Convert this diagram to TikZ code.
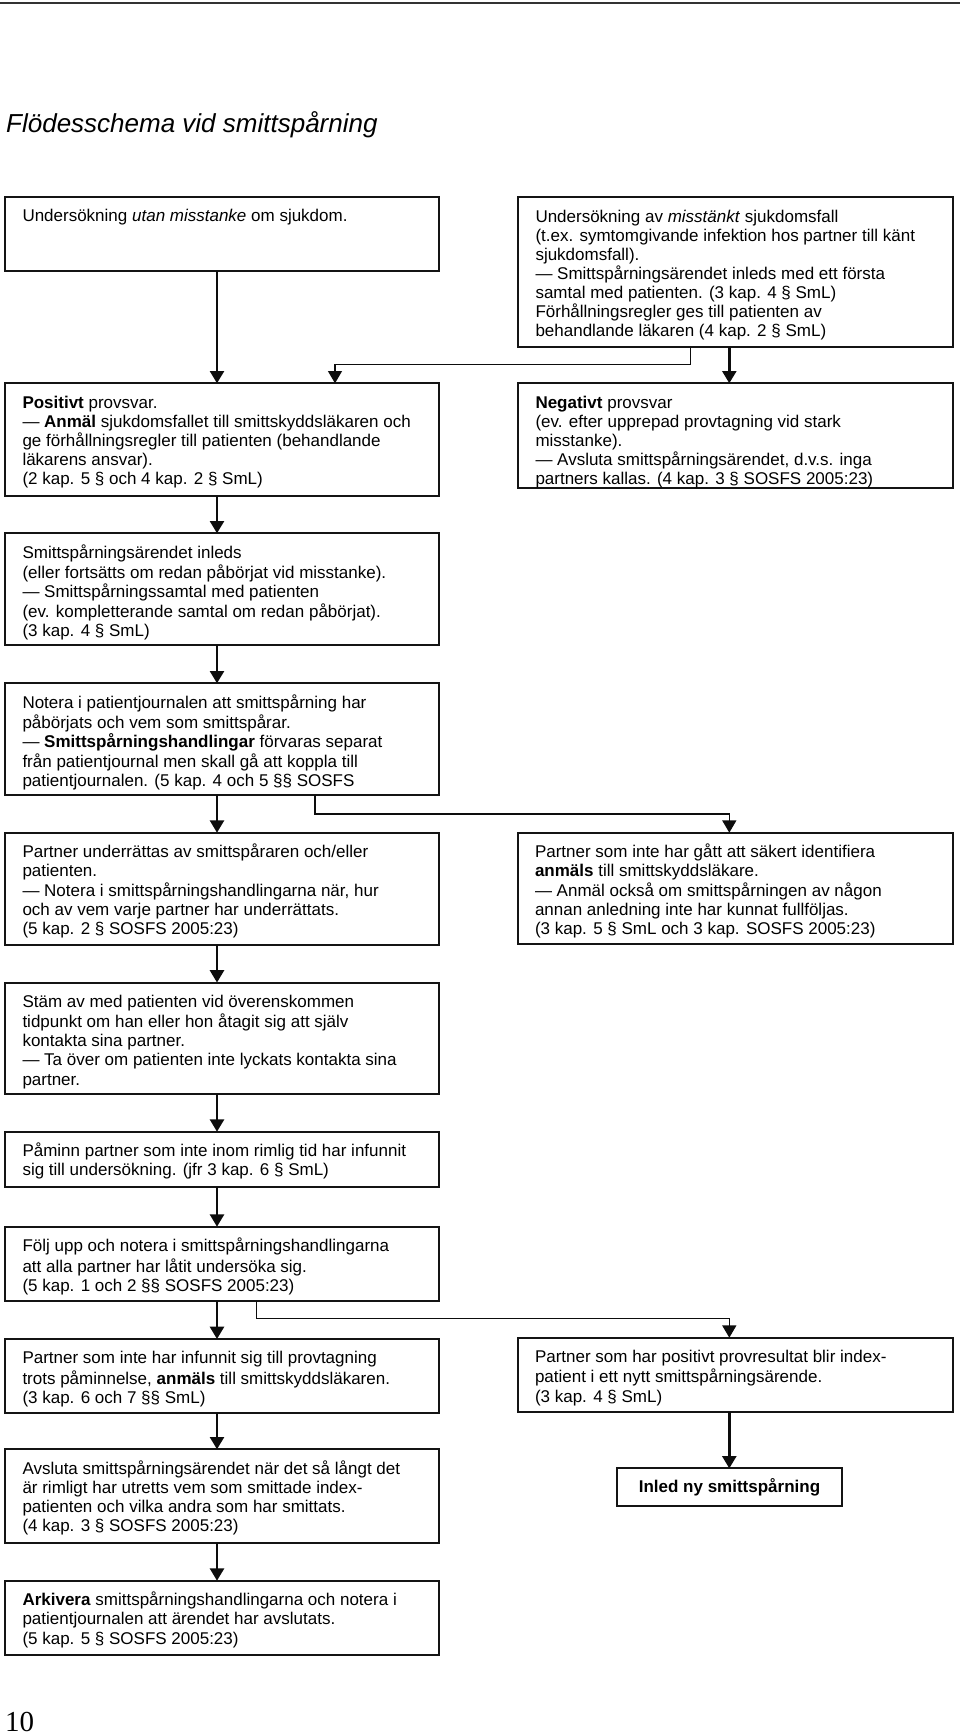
\documentclass[tikz,border=0pt]{standalone}
\usepackage{fontspec}
\setmainfont{Liberation Sans}
\newfontfamily\serifnum{Liberation Serif}
\usetikzlibrary{arrows.meta,calc}
\newcommand{\flowbox}[6]{%
  \node[box, minimum width=#4pt, minimum height=#5pt] (#1) at (#2,#3) {};
  \node[txt] (#1t) at ($(#1.north west)+(17.5,11.3)$) {\strut #6};}
\begin{document}
\begin{tikzpicture}[x=1pt,y=-1pt,
  box/.style={draw=black!92, line width=2pt, anchor=north west, inner sep=0pt, outer sep=0pt},
  txt/.style={anchor=north west, inner sep=0pt, outer sep=0pt, align=left, font=\fontsize{17}{19.15}\selectfont},
  mainarrow/.style={draw=black!95, line width=2.5pt, -{Triangle[length=12.3pt,width=14pt]}},
  thinarrow/.style={draw=black!95, line width=1.4pt, -{Triangle[length=12.3pt,width=14pt]}}]
\useasboundingbox (0,0) rectangle (960,1735);
\draw[line width=2pt, black!80] (0,2.7) -- (960,2.7);
\node[anchor=base west, inner sep=0pt, font=\fontsize{26}{30}\selectfont\itshape] (title) at (6,132.3) {Flödesschema vid smittspårning};

\flowbox{A}{5}{196.7}{434}{74}{Undersökning \textit{utan misstanke} om sjukdom.}
\flowbox{B}{518}{197.3}{435}{149.4}{Undersökning av \textit{misstänkt} sjukdomsfall\\(t.ex. symtomgivande infektion hos partner till känt\\sjukdomsfall).\\— Smittspårningsärendet inleds med ett första\\samtal med patienten. (3 kap. 4 § SmL)\\Förhållningsregler ges till patienten av\\behandlande läkaren (4 kap. 2 § SmL)}
\flowbox{C}{5}{383.3}{434}{112.7}{\textbf{Positivt} provsvar.\\— \textbf{Anmäl} sjukdomsfallet till smittskyddsläkaren och\\ge förhållningsregler till patienten (behandlande\\läkarens ansvar).\\(2 kap. 5 § och 4 kap. 2 § SmL)}
\flowbox{D}{518}{383.3}{435}{104.7}{\textbf{Negativt} provsvar\\(ev. efter upprepad provtagning vid stark\\misstanke).\\— Avsluta smittspårningsärendet, d.v.s. inga\\partners kallas. (4 kap. 3 § SOSFS 2005:23)}
\flowbox{E}{5}{533.3}{434}{112}{Smittspårningsärendet inleds\\(eller fortsätts om redan påbörjat vid misstanke).\\— Smittspårningssamtal med patienten\\(ev. kompletterande samtal om redan påbörjat).\\(3 kap. 4 § SmL)}
\flowbox{F}{5}{683.3}{434}{111.4}{Notera i patientjournalen att smittspårning har\\påbörjats och vem som smittspårar.\\— \textbf{Smittspårningshandlingar} förvaras separat\\från patientjournal men skall gå att koppla till\\patientjournalen. (5 kap. 4 och 5 §§ SOSFS}
\flowbox{G}{5}{832.7}{434}{112}{Partner underrättas av smittspåraren och/eller\\patienten.\\— Notera i smittspårningshandlingarna när, hur\\och av vem varje partner har underrättats.\\(5 kap. 2 § SOSFS 2005:23)}
\flowbox{H}{517.5}{832.7}{435.5}{111.6}{Partner som inte har gått att säkert identifiera\\\textbf{anmäls} till smittskyddsläkare.\\— Anmäl också om smittspårningen av någon\\annan anledning inte har kunnat fullföljas.\\(3 kap. 5 § SmL och 3 kap. SOSFS 2005:23)}
\flowbox{I}{5}{982.5}{434}{111.5}{Stäm av med patienten vid överenskommen\\tidpunkt om han eller hon åtagit sig att själv\\kontakta sina partner.\\— Ta över om patienten inte lyckats kontakta sina\\partner.}
\flowbox{J}{5}{1131.7}{434}{55.6}{Påminn partner som inte inom rimlig tid har infunnit\\sig till undersökning. (jfr 3 kap. 6 § SmL)}
\flowbox{K}{5}{1226.7}{434}{73.8}{Följ upp och notera i smittspårningshandlingarna\\att alla partner har låtit undersöka sig.\\(5 kap. 1 och 2 §§ SOSFS 2005:23)}
\flowbox{L}{5}{1339}{434}{73.7}{Partner som inte har infunnit sig till provtagning\\trots påminnelse, \textbf{anmäls} till smittskyddsläkaren.\\(3 kap. 6 och 7 §§ SmL)}
\flowbox{M}{517.5}{1337.7}{435.2}{74.6}{Partner som har positivt provresultat blir index-\\patient i ett nytt smittspårningsärende.\\(3 kap. 4 § SmL)}
\flowbox{N}{5}{1449.3}{434}{94}{Avsluta smittspårningsärendet när det så långt det\\är rimligt har utretts vem som smittade index-\\patienten och vilka andra som har smittats.\\(4 kap. 3 § SOSFS 2005:23)}
\node[box, minimum width=225.6pt, minimum height=37.7pt, font=\fontsize{17}{19.15}\selectfont\bfseries, anchor=center] (O) at (729.5,1487.2) {Inled ny smittspårning};
\flowbox{P}{5}{1580.7}{434}{74.3}{\textbf{Arkivera} smittspårningshandlingarna och notera i\\patientjournalen att ärendet har avslutats.\\(5 kap. 5 § SOSFS 2005:23)}

\node[anchor=base west, inner sep=0pt, font=\serifnum\fontsize{29}{32}\selectfont] (pagenum) at (5,1731) {10};

\coordinate (cl) at (217,0);
\coordinate (cr) at (729.3,0);
\coordinate (b1) at (690.7,364.5);
\coordinate (b2) at (335,364.5);
\coordinate (f1) at (315,814);
\coordinate (f2) at (729.3,814);
\coordinate (k1) at (256.7,1318.3);
\coordinate (k2) at (729.3,1318.3);

\draw[mainarrow] (A.south -| cl) -- (C.north -| cl);
\draw[thinarrow] (B.south -| b1) -- (b1) -- (b2) -- (C.north -| b2);
\draw[mainarrow] (B.south -| cr) -- (D.north -| cr);
\draw[mainarrow] (C.south -| cl) -- (E.north -| cl);
\draw[mainarrow] (E.south -| cl) -- (F.north -| cl);
\draw[mainarrow] (F.south -| cl) -- (G.north -| cl);
\draw[thinarrow] (F.south -| f1) -- (f1) -- (f2) -- (H.north -| f2);
\draw[mainarrow] (G.south -| cl) -- (I.north -| cl);
\draw[mainarrow] (I.south -| cl) -- (J.north -| cl);
\draw[mainarrow] (J.south -| cl) -- (K.north -| cl);
\draw[mainarrow] (K.south -| cl) -- (L.north -| cl);
\draw[thinarrow] (K.south -| k1) -- (k1) -- (k2) -- (M.north -| k2);
\draw[mainarrow] (L.south -| cl) -- (N.north -| cl);
\draw[mainarrow] (N.south -| cl) -- (P.north -| cl);
\draw[mainarrow] (M.south -| cr) -- (O.north -| cr);
\end{tikzpicture}
\end{document}
